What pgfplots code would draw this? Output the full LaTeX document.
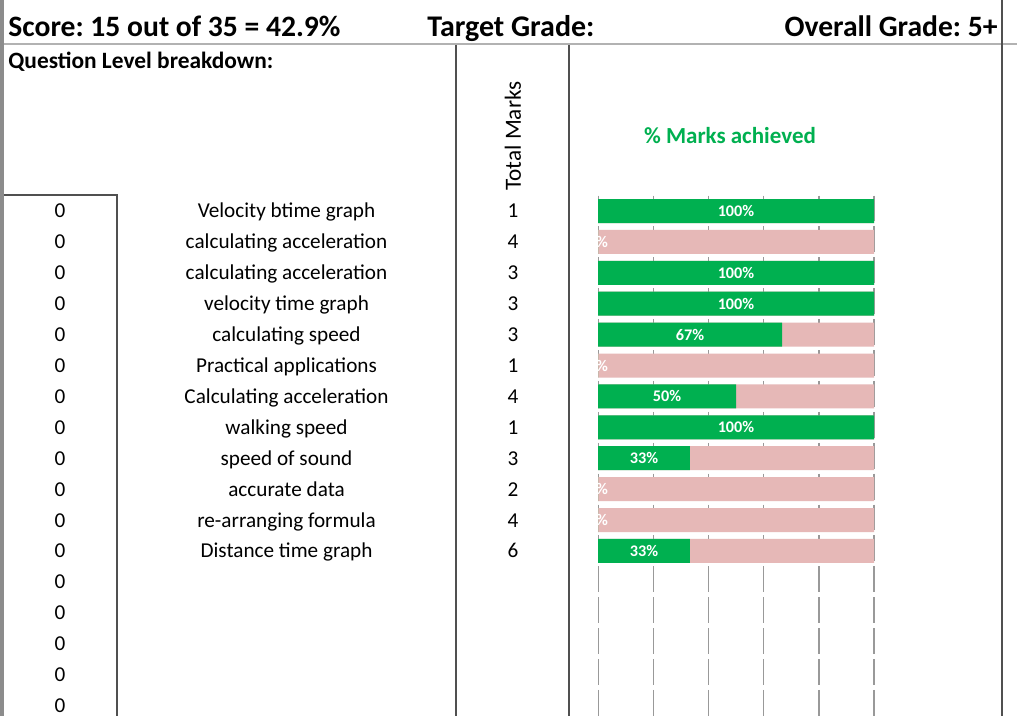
\documentclass[border=0pt]{standalone}
\usepackage{pgfplots}
\pgfplotsset{compat=1.18}
\usepackage{fontspec}
\setmainfont{Carlito}
\frenchspacing
\definecolor{xgreen}{HTML}{00B050}
\definecolor{xpink}{HTML}{E6B8B7}
\definecolor{lineg}{HTML}{505050}
\begin{document}
\begin{tikzpicture}
\begin{scope}[x=0.5pt,y=-0.5pt]
\useasboundingbox (0,0) rectangle (1017,716);
\clip (0,0) rectangle (1017,716);
\fill[white] (0,0) rectangle (1017,716);
\fill[black!45] (0,0) rectangle (4,716);
\draw[black!30, line width=1pt] (4,44.5) -- (1017,44.5);
\draw[lineg, line width=1pt] (1002,0) -- (1002,716);
\draw[lineg, line width=1pt] (456,45) -- (456,716);
\draw[lineg, line width=1pt] (569,45) -- (569,716);
\draw[lineg, line width=0.8pt] (4,195) -- (117,195) -- (117,716);
% headings
\node[anchor=base west, inner sep=0pt, font=\bfseries\fontsize{14.8}{16}\selectfont] at (8,37) {Score: 15 out of 35 = 42.9\%};
\node[anchor=base west, inner sep=0pt, font=\bfseries\fontsize{15}{16}\selectfont] at (427,37) {Target Grade:};
\node[anchor=base east, inner sep=0pt, font=\bfseries\fontsize{14.8}{16}\selectfont] at (998,37) {Overall Grade: 5+};
\node[anchor=base west, inner sep=0pt, font=\bfseries\fontsize{11.7}{13}\selectfont] at (8,69) {Question Level breakdown:};
\node[rotate=90, inner sep=0pt, font=\fontsize{11.6}{13}\selectfont] at (513,136) {Total Marks};
\node[inner sep=0pt, text=xgreen, font=\bfseries\fontsize{11.5}{13}\selectfont] at (730,136) {\% Marks achieved};
% rows
\foreach \lab/\tm [count=\i] in {Velocity btime graph/1, calculating acceleration/4, calculating acceleration/3, velocity time graph/3, calculating speed/3, Practical applications/1, Calculating acceleration/4, walking speed/1, speed of sound/3, accurate data/2, re-arranging formula/4, Distance time graph/6}{
  \node[anchor=base, inner sep=0pt, font=\fontsize{10.6}{12}\selectfont] at (286.5,{211+(\i-1)*30.9+7}) {\lab};
  \node[anchor=base, inner sep=0pt, font=\fontsize{10.6}{12}\selectfont] at (513,{211+(\i-1)*30.9+7}) {\tm};
}
\foreach \i in {1,...,17}{
  \node[anchor=base, inner sep=0pt, font=\fontsize{10.6}{12}\selectfont] at (60,{211+(\i-1)*30.9+7}) {0};
}
\end{scope}
% chart
\begin{scope}
\clip (299pt,-50pt) rectangle (500pt,-358pt);
\begin{axis}[at={(299pt,-97.775pt)}, anchor=north west,
  width=138pt, height=262.65pt, scale only axis,
  xmin=0, xmax=100, ymin=0.5, ymax=17.5, y dir=reverse,
  axis line style={draw=none},
  xtick={0,20,...,100}, xticklabels={}, ytick=\empty,
  major tick length=0pt,
  xmajorgrids,
  grid style={black!40, line width=0.7pt, dash pattern=on 12.95pt off 2.5pt},
  clip=false]
\addplot[xbar, bar width=12pt, bar shift=0pt, fill=xpink, draw=none] table {
x y
100 1
100 2
100 3
100 4
100 5
100 6
100 7
100 8
100 9
100 10
100 11
100 12
};
\addplot[xbar, bar width=12pt, bar shift=0pt, fill=xgreen, draw=none] table {
x y
100 1
0 2
100 3
100 4
66.67 5
0 6
50 7
100 8
33.33 9
0 10
0 11
33.33 12
};
\addplot[draw=none, mark=none, point meta=explicit,
  nodes near coords={\pgfmathprintnumber[fixed,precision=0,assume math mode=true]{\pgfplotspointmeta}\%},
  nodes near coords style={anchor=center, inner sep=0pt, text=white, font=\bfseries\fontsize{8.1}{9}\selectfont}]
  table[meta=p] {
x y p
50 1 100
0 2 0
50 3 100
50 4 100
33.33 5 67
0 6 0
25 7 50
50 8 100
16.67 9 33
0 10 0
0 11 0
16.67 12 33
};
\end{axis}
\end{scope}
\end{tikzpicture}
\end{document}
